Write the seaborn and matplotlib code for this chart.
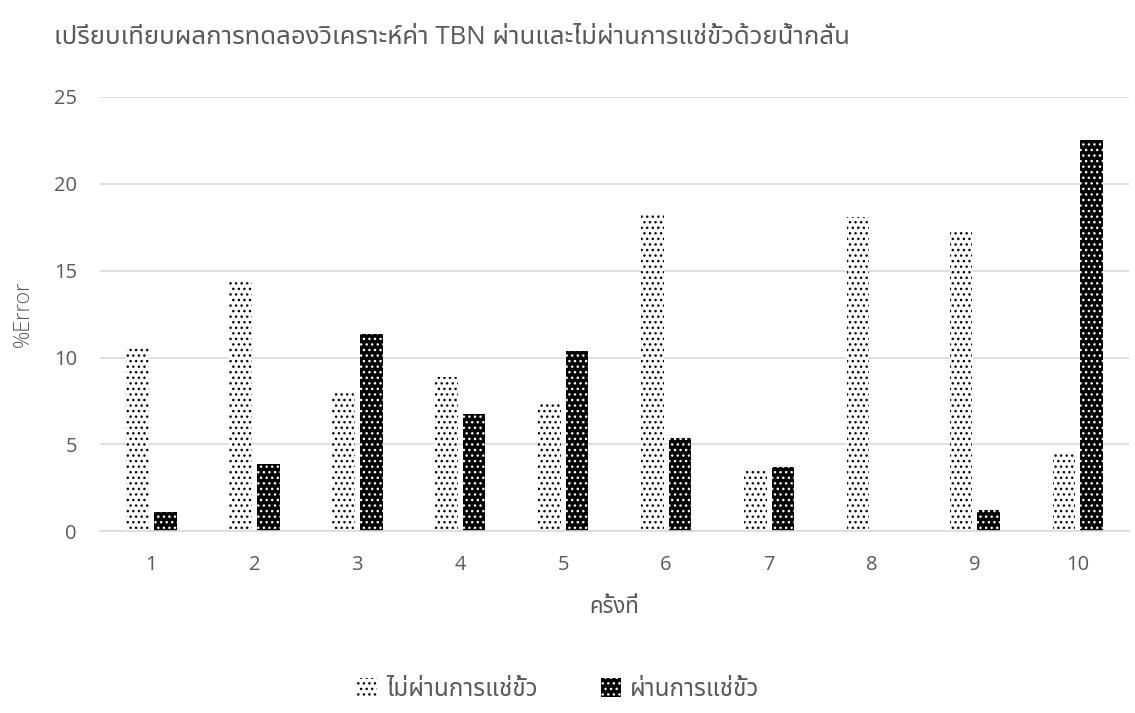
import matplotlib
matplotlib.use("Agg")
import matplotlib.pyplot as plt
from matplotlib.patches import Patch
import seaborn as sns
import pandas as pd

# values
rounds = ["1", "2", "3", "4", "5", "6", "7", "8", "9", "10"]
not_soaked = [10.6, 14.4, 8.0, 8.9, 7.4, 18.3, 3.6, 18.1, 17.2, 4.55]
soaked = [1.1, 3.85, 11.35, 6.75, 10.4, 5.4, 3.7, 0.0, 1.2, 22.5]
series_names = ["ไม่ผ่านการแช่ขั้ว", "ผ่านการแช่ขั้ว"]

df = pd.DataFrame({
    "round": rounds * 2,
    "error": not_soaked + soaked,
    "series": [series_names[0]] * len(rounds) + [series_names[1]] * len(rounds),
})

sns.set_theme(style="white")
plt.rcParams["font.family"] = ["Open Sans", "Noto Sans Thai", "Sarabun", "Loma", "DejaVu Sans"]
plt.rcParams["hatch.linewidth"] = 1.0
text_grey = "#595959"

fig = plt.figure(figsize=(11.35, 7.13), dpi=100)
ax = fig.add_axes([0.088, 0.2548, 0.907, 0.6092])

sns.barplot(data=df, x="round", y="error", hue="series", hue_order=series_names,
            width=0.54, gap=0.18, legend=False, ax=ax)

# pattern fills like the Excel original
styles = [dict(fc="white", ec="black", hatch="..."),
          dict(fc="black", ec="white", hatch="...")]
for cont, st in zip(ax.containers, styles):
    for bar in cont:
        bar.set_facecolor(st["fc"])
        bar.set_edgecolor(st["ec"])
        bar.set_hatch(st["hatch"])
        bar.set_linewidth(0)

ax.set_ylim(0, 25)
ax.set_xlim(-0.5, 9.5)
ax.set_yticks([0, 5, 10, 15, 20, 25])
ax.yaxis.grid(True, color="#d9d9d9", linewidth=1.2)
ax.set_axisbelow(True)
for side in ["top", "right", "left"]:
    ax.spines[side].set_visible(False)
ax.spines["bottom"].set_color("#d9d9d9")
ax.spines["bottom"].set_linewidth(1.2)
ax.tick_params(axis="both", length=0, labelsize=14.5, labelcolor=text_grey)
ax.tick_params(axis="x", pad=17)
ax.tick_params(axis="y", pad=16.5)

ax.set_xlabel("ครั้งที่", fontsize=16, color=text_grey)
ax.set_ylabel("%Error", fontsize=15.5, color=text_grey, fontweight="light")
ax.xaxis.set_label_coords(0.5, -0.151)
ax.yaxis.set_label_coords(-0.064, 0.5)

fig.text(0.048, 0.947, "เปรียบเทียบผลการทดลองวิเคราะห์ค่า TBN ผ่านและไม่ผ่านการแช่ขั้วด้วยน้ำกลั่น",
         ha="left", va="center", fontsize=18.5, color=text_grey)

handles = [Patch(facecolor=st["fc"], edgecolor=st["ec"], hatch=st["hatch"], linewidth=0)
           for st in styles]
fig.legend(handles, series_names, loc="center", bbox_to_anchor=(0.492, 0.032), ncol=2,
           frameon=False, labelcolor=text_grey, handlelength=0.8,
           prop={"size": 17.5},
           handleheight=0.8, handletextpad=0.4, columnspacing=2.6)

fig.savefig("out.png", dpi=100)
